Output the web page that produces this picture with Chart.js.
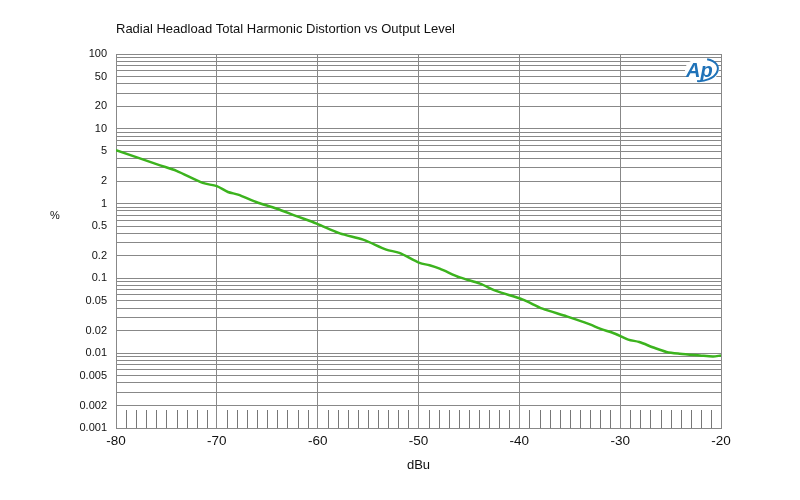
<!DOCTYPE html>
<html>
<head>
<meta charset="utf-8">
<script src="https://cdn.jsdelivr.net/npm/chart.js@4/dist/chart.umd.min.js"></script>
<style>
  html, body { margin: 0; padding: 0; background: #fff; }
  #wrap { width: 800px; height: 500px; position: relative; }
</style>
</head>
<body>
<div id="wrap"><canvas id="thdChart"></canvas></div>
<script>
// output level (dBu) and THD (%)
const levels = [-80, -75.7, -74, -71.4, -70, -68.9, -67.9, -66.1, -64.1, -62.1, -60.1, -57.8, -55.5, -53.2, -51.9,
  -49.9, -48.9, -47.9, -45.9, -43.9, -42.3, -39.7, -37.7, -35.3, -33, -32, -30.5, -29.2, -28.1, -26.7, -25.4,
  -24.1, -22.1, -20.8, -20];
const thd = [5.19, 3.27, 2.74, 1.89, 1.71, 1.43, 1.32, 1.05, 0.86, 0.68, 0.54, 0.40, 0.33, 0.243, 0.219,
  0.161, 0.150, 0.135, 0.103, 0.085, 0.068, 0.0525, 0.0394, 0.0311, 0.0243, 0.0213, 0.0182, 0.0152, 0.0141, 0.0119, 0.0104,
  0.00985, 0.00935, 0.00906, 0.0093];

const xTicks = [-80, -70, -60, -50, -40, -30, -20];
const yTickLabels = ['100', '50', '20', '10', '5', '2', '1', '0.5', '0.2', '0.1', '0.05', '0.02', '0.01', '0.005', '0.002', '0.001'];
const decades = [-3, -2, -1, 0, 1];
const multiples = [1, 2, 3, 4, 5, 6, 7, 8, 9];

const titleText = 'Radial Headload Total Harmonic Distortion vs Output Level';
const font = '"Liberation Sans", Arial, sans-serif';

const extras = {
  id: 'extras',
  afterDatasetsDraw(chart) {
    const { ctx, chartArea: a, scales: { x } } = chart;
    ctx.save();
    // short 1 dB tick marks along the bottom
    ctx.strokeStyle = '#777';
    ctx.lineWidth = 1;
    for (let v = -79; v < -20; v++) {
      if (v % 10 === 0) continue;
      const px = Math.round(x.getPixelForValue(v)) + 0.5;
      ctx.beginPath();
      ctx.moveTo(px, a.bottom);
      ctx.lineTo(px, a.bottom - 18);
      ctx.stroke();
    }
    // Ap logo, top right
    const cx = a.right - 19, cy = a.top + 16;
    ctx.fillStyle = '#fff';
    ctx.beginPath();
    ctx.ellipse(cx, cy, 17, 12, 0, 0, Math.PI * 2);
    ctx.fill();
    ctx.fillStyle = '#1f72b8';
    ctx.strokeStyle = '#1f72b8';
    ctx.font = 'italic bold 20px ' + font;
    ctx.textBaseline = 'middle';
    ctx.textAlign = 'left';
    ctx.fillText('Ap', cx - 16, cy + 1);
    ctx.lineWidth = 2;
    ctx.beginPath();
    ctx.ellipse(cx - 1, cy, 17, 11, -0.15, -1.1, 1.9);
    ctx.stroke();
    ctx.restore();
  },
  afterDraw(chart) {
    const { ctx } = chart;
    ctx.save();
    ctx.fillStyle = '#111';
    ctx.font = '13px ' + font;
    ctx.textBaseline = 'middle';
    ctx.textAlign = 'left';
    ctx.fillText(titleText, 116, 29);
    ctx.font = '11px ' + font;
    ctx.textAlign = 'center';
    ctx.fillText('%', 55, 216);
    ctx.restore();
  }
};

new Chart(document.getElementById('thdChart'), {
  type: 'line',
  data: {
    datasets: [{
      data: levels.map((v, i) => ({ x: v, y: thd[i] })),
      borderColor: '#3cb31e',
      borderWidth: 2.5,
      pointRadius: 0,
      tension: 0.3,
      fill: false
    }]
  },
  options: {
    responsive: true,
    maintainAspectRatio: false,
    animation: false,
    layout: { padding: { left: 0, right: 79, top: 54, bottom: 0 } },
    plugins: { legend: { display: false }, tooltip: { enabled: false }, title: { display: false } },
    scales: {
      x: {
        type: 'linear',
        min: -80,
        max: -20,
        afterBuildTicks: (scale) => { scale.ticks = xTicks.map((v) => ({ value: v })); },
        afterFit: (scale) => { scale.height = 72; },
        ticks: { color: '#111', font: { family: font, size: 13.5 }, padding: 5 },
        grid: { color: '#888', drawTicks: false },
        border: { color: '#888' },
        title: { display: true, text: 'dBu', color: '#111', font: { family: font, size: 13 }, padding: { top: 0, bottom: 27 } }
      },
      y: {
        type: 'logarithmic',
        min: 0.001,
        max: 100,
        afterBuildTicks: (scale) => {
          const t = [];
          decades.forEach((d) => multiples.forEach((m) => t.push({ value: m * Math.pow(10, d) })));
          t.push({ value: 100 });
          scale.ticks = t;
        },
        afterFit: (scale) => { scale.width = 116; },
        ticks: {
          color: '#111',
          font: { family: font, size: 11 },
          padding: 9,
          autoSkip: false,
          callback: (v) => yTickLabels.find((s) => Math.abs(Number(s) - v) / v < 1e-6) || ''
        },
        grid: { color: '#888', drawTicks: false },
        border: { color: '#888' }
      }
    }
  },
  plugins: [extras]
});
</script>
</body>
</html>
